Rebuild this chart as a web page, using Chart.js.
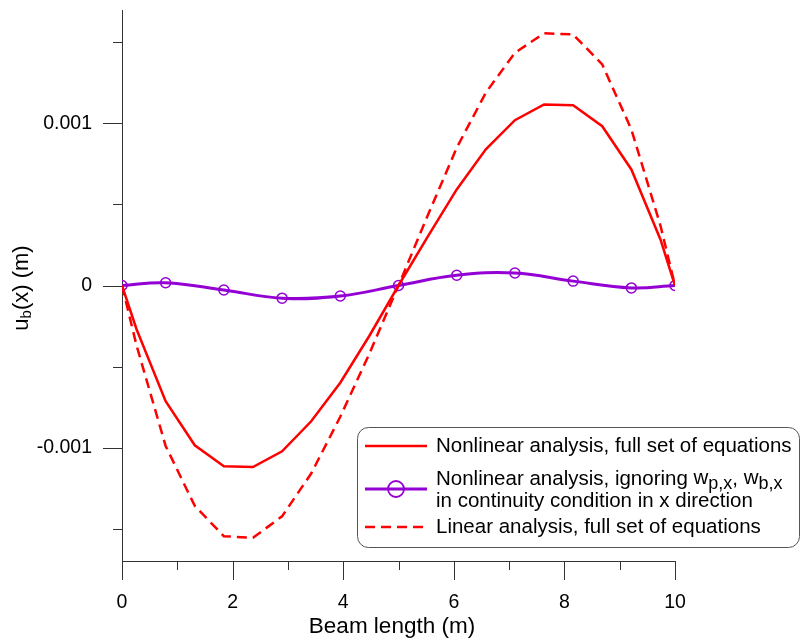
<!DOCTYPE html>
<html lang="en">
<head>
	<meta charset="utf-8" />
	<title>u_b(x) along the beam</title>
	<script src="https://cdn.jsdelivr.net/npm/chart.js@4.4.0/dist/chart.umd.min.js"></script>
	<style>
		body { margin: 0; background: #fff; }
		#wrap { width: 802px; height: 641px; }
	</style>
</head>

<body>
	<div id="wrap"><canvas id="chart" width="802" height="641"></canvas></div>

	<script>
		// beam positions (m): ends + element midpoints
		var beamX = [0, 0.263, 0.789, 1.316, 1.842, 2.368, 2.895, 3.421, 3.947, 4.474, 5.0,
			5.526, 6.053, 6.579, 7.105, 7.632, 8.158, 8.684, 9.211, 9.737, 10];
		// nonlinear analysis, full set of equations (m)
		var nonlinearFull = [0, -0.00027, -0.000714, -0.000986, -0.001115, -0.00112, -0.001023, -0.000838, -0.0006, -0.00031, 0,
			0.0003, 0.000593, 0.00084, 0.00102, 0.001117, 0.001113, 0.000983, 0.000716, 0.000284, 0];
		// linear analysis, full set of equations (m)
		var linearFull = [0, -0.00037, -0.00099, -0.00136, -0.001547, -0.001557, -0.001424, -0.00116, -0.00081, -0.00042, 0,
			0.00043, 0.00085, 0.00119, 0.001436, 0.001556, 0.001549, 0.001364, 0.000963, 0.00037, 0];
		// nonlinear analysis ignoring w_p,x / w_b,x (m)
		var ignoringX = [0, 0.789, 1.842, 2.895, 3.947, 5.0, 6.053, 7.105, 8.158, 9.211, 10];
		var ignoringY = [0, 0.000017, -0.000028, -0.000078, -0.000065, 0, 0.000063, 0.000077, 0.000027, -0.000015, 0];

		var xTicks = [0, 1, 2, 3, 4, 5, 6, 7, 8, 9, 10];
		var yTicks = [-0.0015, -0.001, -0.0005, 0, 0.0005, 0.001, 0.0015];
		var yTickLabels = ['', '-0.001', '', '0', '', '0.001', ''];

		var red = '#ff0000';
		var violet = '#9400d3';
		var axisColor = '#333333';
		var fontName = '"Liberation Sans", Arial, sans-serif';

		var toPoints = (xs, ys) => xs.map((x, i) => ({ x: x, y: ys[i] }));

		var isMajorX = (v) => v % 2 === 0;
		var isMajorY = (v) => yTickLabels[yTicks.indexOf(v)] !== '';

		// ticks, axis titles and the boxed legend
		var extras = {
			id: 'extras',
			afterDraw(chart) {
				var ctx = chart.ctx;
				var sx = chart.scales.x, sy = chart.scales.y;
				var area = chart.chartArea;
				ctx.save();

				ctx.strokeStyle = axisColor;
				ctx.lineWidth = 1;
				ctx.beginPath();
				xTicks.forEach(v => {
					var px = Math.round(sx.getPixelForValue(v)) + 0.5;
					ctx.moveTo(px, area.bottom);
					ctx.lineTo(px, area.bottom + (isMajorX(v) ? 19 : 9));
				});
				yTicks.forEach(v => {
					var py = Math.round(sy.getPixelForValue(v)) + 0.5;
					ctx.moveTo(area.left - (isMajorY(v) ? 19 : 9), py);
					ctx.lineTo(area.left, py);
				});
				ctx.stroke();

				ctx.fillStyle = '#000';
				ctx.textBaseline = 'middle';

				// x title
				ctx.textAlign = 'center';
				ctx.font = '22.5px ' + fontName;
				ctx.fillText('Beam length (m)', 392, 627);

				// y title with subscript
				ctx.textAlign = 'left';
				var big = '22px ' + fontName, small = '15px ' + fontName;
				ctx.font = big;
				var wU = ctx.measureText('u').width;
				var wRest = ctx.measureText('(x) (m)').width;
				ctx.font = small;
				var wB = ctx.measureText('b').width;
				var total = wU + wB + wRest;
				ctx.save();
				ctx.translate(22, 288);
				ctx.rotate(-Math.PI / 2);
				var x0 = -total / 2;
				ctx.font = big;
				ctx.fillText('u', x0, 0);
				ctx.font = small;
				ctx.fillText('b', x0 + wU, 5);
				ctx.font = big;
				ctx.fillText('(x) (m)', x0 + wU + wB, 0);
				ctx.restore();

				// legend box
				ctx.beginPath();
				ctx.roundRect(357.5, 427.5, 442, 120, 11);
				ctx.fillStyle = '#fff';
				ctx.fill();
				ctx.strokeStyle = '#555';
				ctx.lineWidth = 1;
				ctx.stroke();

				var ds = chart.data.datasets;
				var lx0 = 365, lx1 = 427, tx = 436;
				ctx.lineWidth = 2.5;

				ctx.strokeStyle = ds[0].borderColor;
				ctx.beginPath();
				ctx.moveTo(lx0, 446); ctx.lineTo(lx1, 446);
				ctx.stroke();

				ctx.strokeStyle = ds[1].borderColor;
				ctx.lineWidth = 3;
				ctx.beginPath();
				ctx.moveTo(lx0, 489); ctx.lineTo(lx1, 489);
				ctx.stroke();
				ctx.lineWidth = 1.8;
				ctx.beginPath();
				ctx.arc(396, 489, 8, 0, Math.PI * 2);
				ctx.stroke();

				ctx.strokeStyle = ds[2].borderColor;
				ctx.lineWidth = 2.5;
				ctx.setLineDash([10, 6]);
				ctx.beginPath();
				ctx.moveTo(lx0, 527); ctx.lineTo(lx1, 527);
				ctx.stroke();
				ctx.setLineDash([]);

				var lf = '20.5px ' + fontName, sf = '18px ' + fontName;
				ctx.fillStyle = '#000';
				ctx.font = lf;
				ctx.fillText('Nonlinear analysis, full set of equations', tx, 446);

				var x = tx;
				var parts = [
					['Nonlinear analysis, ignoring ', lf, 0],
					['w', lf, -1],
					['p,x', sf, 5],
					[', ', lf, 0],
					['w', lf, -1],
					['b,x', sf, 5]
				];
				parts.forEach(p => {
					ctx.font = p[1];
					ctx.fillText(p[0], x, 479 + p[2]);
					x += ctx.measureText(p[0]).width;
				});
				ctx.font = lf;
				ctx.fillText('in continuity condition in x direction', tx, 501);
				ctx.fillText('Linear analysis, full set of equations', tx, 527);

				ctx.restore();
			}
		};

		var ctxEl = document.getElementById('chart');
		var chart = new Chart(ctxEl, {
			type: 'line',
			data: {
				datasets: [
					{
						label: 'Nonlinear analysis, full set of equations',
						data: toPoints(beamX, nonlinearFull),
						borderColor: red,
						borderWidth: 2.5,
						pointRadius: 0,
						tension: 0
					},
					{
						label: 'Nonlinear analysis, ignoring wp,x, wb,x in continuity condition in x direction',
						data: toPoints(ignoringX, ignoringY),
						borderColor: violet,
						borderWidth: 3,
						pointRadius: 5,
						pointBorderWidth: 1.5,
						pointBorderColor: violet,
						pointBackgroundColor: 'rgba(0,0,0,0)',
						tension: 0.4
					},
					{
						label: 'Linear analysis, full set of equations',
						data: toPoints(beamX, linearFull),
						borderColor: red,
						borderWidth: 2.5,
						borderDash: [10, 6],
						pointRadius: 0,
						tension: 0
					}
				]
			},
			options: {
				responsive: false,
				animation: false,
				layout: { padding: { left: 0, top: 10, right: 127, bottom: 0 } },
				plugins: {
					legend: { display: false },
					tooltip: { enabled: false }
				},
				scales: {
					x: {
						type: 'linear',
						min: 0,
						max: 10,
						afterBuildTicks: (s) => { s.ticks = xTicks.map(v => ({ value: v })); },
						afterFit: (s) => { s.height = 80; s.paddingLeft = 0; s.paddingRight = 0; },
						grid: { display: false },
						border: { display: true, color: axisColor, width: 1 },
						ticks: {
							padding: 22,
							color: '#000',
							font: { family: fontName, size: 19.5 },
							maxRotation: 0,
							autoSkip: false,
							callback: (v) => isMajorX(v) ? String(v) : ''
						}
					},
					y: {
						type: 'linear',
						min: -0.0017,
						max: 0.0017,
						afterBuildTicks: (s) => { s.ticks = yTicks.map(v => ({ value: v })); },
						afterFit: (s) => { s.width = 122; s.paddingTop = 0; s.paddingBottom = 0; },
						grid: { display: false },
						border: { display: true, color: axisColor, width: 1 },
						ticks: {
							padding: 22,
							color: '#000',
							font: { family: fontName, size: 19.5 },
							autoSkip: false,
							callback: (v, i) => yTickLabels[i]
						}
					}
				}
			},
			plugins: [extras]
		});
	</script>
</body>
</html>
